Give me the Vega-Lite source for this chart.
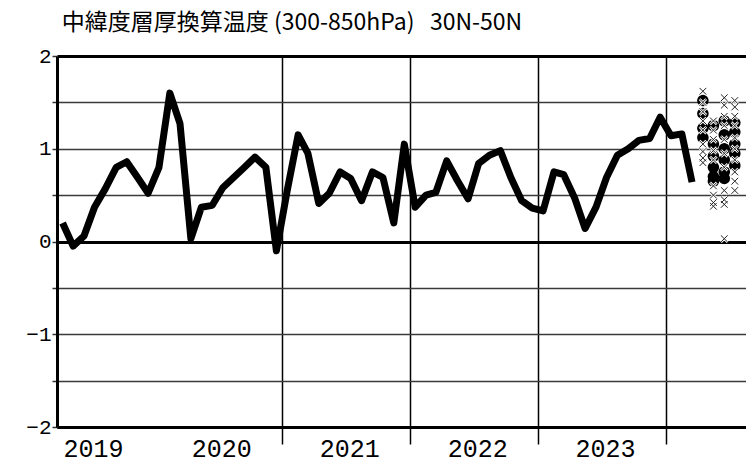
{
  "$schema": "https://vega.github.io/schema/vega-lite/v6.json",
  "width": 689,
  "height": 371,
  "autosize": {"type": "none"},
  "padding": {"left": 57, "top": 56, "right": 0, "bottom": 39},
  "background": "white",
  "title": {
    "text": "中緯度層厚換算温度 (300-850hPa) \u00a0 30N-50N",
    "anchor": "start",
    "dx": 36,
    "offset": 10,
    "font": "Noto Sans CJK JP",
    "fontSize": 23,
    "fontWeight": "normal",
    "color": "black"
  },
  "config": {"view": {"stroke": null}},
  "datasets": {
    "obs": [
      {"date": "2019-04-15", "value": 0.20},
      {"date": "2019-05-15", "value": -0.05},
      {"date": "2019-06-15", "value": 0.06},
      {"date": "2019-07-15", "value": 0.37},
      {"date": "2019-08-15", "value": 0.57},
      {"date": "2019-09-15", "value": 0.80},
      {"date": "2019-10-15", "value": 0.86},
      {"date": "2019-11-15", "value": 0.69},
      {"date": "2019-12-15", "value": 0.52},
      {"date": "2020-01-15", "value": 0.80},
      {"date": "2020-02-15", "value": 1.60},
      {"date": "2020-03-15", "value": 1.27},
      {"date": "2020-04-15", "value": 0.03},
      {"date": "2020-05-15", "value": 0.37},
      {"date": "2020-06-15", "value": 0.39},
      {"date": "2020-07-15", "value": 0.58},
      {"date": "2020-08-15", "value": 0.69},
      {"date": "2020-09-15", "value": 0.80},
      {"date": "2020-10-15", "value": 0.91},
      {"date": "2020-11-15", "value": 0.80},
      {"date": "2020-12-15", "value": -0.10},
      {"date": "2021-01-15", "value": 0.55},
      {"date": "2021-02-15", "value": 1.15},
      {"date": "2021-03-15", "value": 0.95},
      {"date": "2021-04-15", "value": 0.41},
      {"date": "2021-05-15", "value": 0.52},
      {"date": "2021-06-15", "value": 0.75},
      {"date": "2021-07-15", "value": 0.68},
      {"date": "2021-08-15", "value": 0.44},
      {"date": "2021-09-15", "value": 0.75},
      {"date": "2021-10-15", "value": 0.69},
      {"date": "2021-11-15", "value": 0.20},
      {"date": "2021-12-15", "value": 1.05},
      {"date": "2022-01-15", "value": 0.37},
      {"date": "2022-02-15", "value": 0.50},
      {"date": "2022-03-15", "value": 0.53},
      {"date": "2022-04-15", "value": 0.87},
      {"date": "2022-05-15", "value": 0.66},
      {"date": "2022-06-15", "value": 0.46},
      {"date": "2022-07-15", "value": 0.84},
      {"date": "2022-08-15", "value": 0.93},
      {"date": "2022-09-15", "value": 0.98},
      {"date": "2022-10-15", "value": 0.69},
      {"date": "2022-11-15", "value": 0.44},
      {"date": "2022-12-15", "value": 0.36},
      {"date": "2023-01-15", "value": 0.33},
      {"date": "2023-02-15", "value": 0.75},
      {"date": "2023-03-15", "value": 0.72},
      {"date": "2023-04-15", "value": 0.47},
      {"date": "2023-05-15", "value": 0.14},
      {"date": "2023-06-15", "value": 0.37},
      {"date": "2023-07-15", "value": 0.69},
      {"date": "2023-08-15", "value": 0.93},
      {"date": "2023-09-15", "value": 1.00},
      {"date": "2023-10-15", "value": 1.09},
      {"date": "2023-11-15", "value": 1.11},
      {"date": "2023-12-15", "value": 1.34},
      {"date": "2024-01-15", "value": 1.14},
      {"date": "2024-02-15", "value": 1.16},
      {"date": "2024-03-15", "value": 0.64}
    ],
    "circles": [
      {"date": "2024-04-15", "value": 1.52},
      {"date": "2024-04-15", "value": 1.38},
      {"date": "2024-04-15", "value": 1.22},
      {"date": "2024-04-15", "value": 1.12},
      {"date": "2024-05-15", "value": 1.25},
      {"date": "2024-05-15", "value": 1.05},
      {"date": "2024-05-15", "value": 0.92},
      {"date": "2024-05-15", "value": 0.80},
      {"date": "2024-05-15", "value": 0.70},
      {"date": "2024-05-15", "value": 0.65},
      {"date": "2024-06-15", "value": 1.30},
      {"date": "2024-06-15", "value": 1.15},
      {"date": "2024-06-15", "value": 1.00},
      {"date": "2024-06-15", "value": 0.88},
      {"date": "2024-06-15", "value": 0.75},
      {"date": "2024-06-15", "value": 0.68},
      {"date": "2024-07-15", "value": 1.28},
      {"date": "2024-07-15", "value": 1.18},
      {"date": "2024-07-15", "value": 1.05},
      {"date": "2024-07-15", "value": 0.95},
      {"date": "2024-07-15", "value": 0.82}
    ],
    "members": [
      {"date": "2024-04-15", "value": 1.62},
      {"date": "2024-04-15", "value": 1.50},
      {"date": "2024-04-15", "value": 1.40},
      {"date": "2024-04-15", "value": 1.30},
      {"date": "2024-04-15", "value": 1.20},
      {"date": "2024-04-15", "value": 1.05},
      {"date": "2024-04-15", "value": 0.97},
      {"date": "2024-04-15", "value": 0.90},
      {"date": "2024-04-15", "value": 0.85},
      {"date": "2024-05-15", "value": 1.30},
      {"date": "2024-05-15", "value": 1.20},
      {"date": "2024-05-15", "value": 1.10},
      {"date": "2024-05-15", "value": 0.98},
      {"date": "2024-05-15", "value": 0.88},
      {"date": "2024-05-15", "value": 0.60},
      {"date": "2024-05-15", "value": 0.50},
      {"date": "2024-05-15", "value": 0.42},
      {"date": "2024-05-15", "value": 0.38},
      {"date": "2024-06-15", "value": 1.55},
      {"date": "2024-06-15", "value": 1.47},
      {"date": "2024-06-15", "value": 1.35},
      {"date": "2024-06-15", "value": 1.25},
      {"date": "2024-06-15", "value": 1.10},
      {"date": "2024-06-15", "value": 0.95},
      {"date": "2024-06-15", "value": 0.80},
      {"date": "2024-06-15", "value": 0.55},
      {"date": "2024-06-15", "value": 0.45},
      {"date": "2024-06-15", "value": 0.40},
      {"date": "2024-06-15", "value": 0.03},
      {"date": "2024-07-15", "value": 1.52},
      {"date": "2024-07-15", "value": 1.45},
      {"date": "2024-07-15", "value": 1.35},
      {"date": "2024-07-15", "value": 1.25},
      {"date": "2024-07-15", "value": 1.12},
      {"date": "2024-07-15", "value": 1.00},
      {"date": "2024-07-15", "value": 0.88},
      {"date": "2024-07-15", "value": 0.75},
      {"date": "2024-07-15", "value": 0.65},
      {"date": "2024-07-15", "value": 0.55}
    ]
  },
  "encoding": {
    "x": {
      "field": "date",
      "type": "temporal",
      "title": null,
      "scale": {
        "type": "utc",
        "domain": [
          {"year": 2019, "month": 3, "date": 30, "utc": true},
          {"year": 2024, "month": 8, "date": 16, "utc": true}
        ]
      },
      "axis": {
        "values": [
          {"year": 2020, "month": 1, "date": 1, "utc": true},
          {"year": 2021, "month": 1, "date": 1, "utc": true},
          {"year": 2022, "month": 1, "date": 1, "utc": true},
          {"year": 2023, "month": 1, "date": 1, "utc": true},
          {"year": 2024, "month": 1, "date": 1, "utc": true}
        ],
        "labelExpr": "'' + (utcyear(datum.value) - 1)",
        "labelOffset": -61,
        "labelFont": "Liberation Mono",
        "labelFontSize": 25,
        "labelColor": "black",
        "labelBaseline": "alphabetic",
        "labelPadding": 12,
        "labelFlush": false,
        "labelOverlap": false,
        "tickSize": 17,
        "tickWidth": 1.5,
        "tickColor": "black",
        "tickOpacity": {"condition": {"test": "utcyear(datum.value) === 2020", "value": 0}, "value": 1},
        "grid": true,
        "gridColor": "black",
        "gridWidth": 1.5,
        "gridOpacity": {"condition": {"test": "utcyear(datum.value) === 2020", "value": 0}, "value": 1},
        "domainColor": "black",
        "domainWidth": 3
      }
    },
    "y": {
      "field": "value",
      "type": "quantitative",
      "title": null,
      "scale": {"domain": [-2, 2], "nice": false, "zero": false},
      "axis": {
        "values": [-2, -1.5, -1, -0.5, 0, 0.5, 1, 1.5, 2],
        "labelExpr": "datum.value % 1 === 0 ? format(datum.value, 'd') : ''",
        "labelFont": "Liberation Mono",
        "labelFontSize": 21,
        "labelColor": "black",
        "labelPadding": 1,
        "labelFlush": false,
        "labelOverlap": false,
        "tickSize": 5,
        "tickWidth": 1.5,
        "tickColor": "#333",
        "grid": true,
        "gridColor": {"condition": {"test": "datum.value === 0 || abs(datum.value) === 2", "value": "black"}, "value": "#3a3a3a"},
        "gridWidth": {"condition": {"test": "datum.value === 0 || abs(datum.value) === 2", "value": 3}, "value": 1.5},
        "gridOpacity": 1,
        "domainColor": "black",
        "domainWidth": 3
      }
    }
  },
  "layer": [
    {
      "data": {"name": "obs"},
      "mark": {"type": "line", "color": "black", "strokeWidth": 7, "strokeJoin": "round", "strokeCap": "butt"}
    },
    {
      "data": {"name": "circles"},
      "mark": {"type": "point", "shape": "circle", "filled": true, "color": "black", "size": 135, "opacity": 1}
    },
    {
      "data": {"name": "members"},
      "mark": {"type": "point", "shape": "M-1,-1L1,1M-1,1L1,-1", "filled": false, "stroke": "white", "strokeWidth": 2.5, "size": 45, "opacity": 1}
    },
    {
      "data": {"name": "members"},
      "mark": {"type": "point", "shape": "M-1,-1L1,1M-1,1L1,-1", "filled": false, "stroke": "#222", "strokeWidth": 1, "size": 45, "opacity": 1}
    }
  ]
}
